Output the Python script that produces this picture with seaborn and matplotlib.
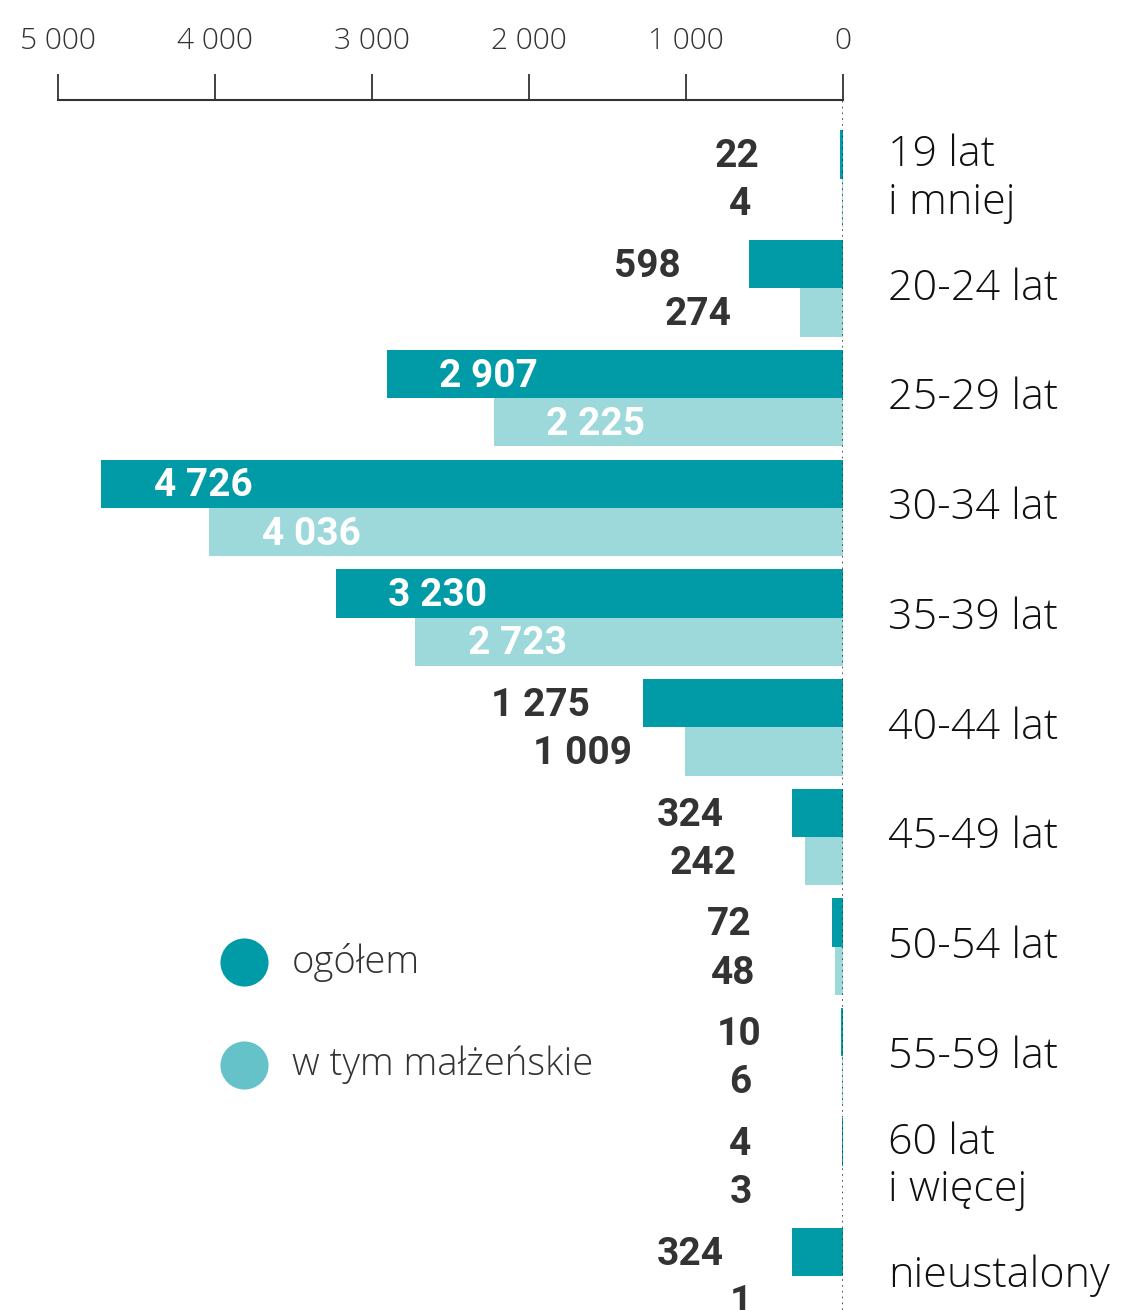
import numpy as np
import pandas as pd
import matplotlib.pyplot as plt
import seaborn as sns

sns.set_style('white')
plt.rcParams['font.family'] = ['Roboto', 'DejaVu Sans']

# dane
kategorie = ['19 lat\ni mniej', '20-24 lat', '25-29 lat', '30-34 lat', '35-39 lat',
             '40-44 lat', '45-49 lat', '50-54 lat', '55-59 lat', '60 lat\ni więcej',
             'nieustalony']
ogolem = [22, 598, 2907, 4726, 3230, 1275, 324, 72, 10, 4, 324]
malzenskie = [4, 274, 2225, 4036, 2723, 1009, 242, 48, 6, 3, 1]
serie = ['ogółem', 'w tym małżeńskie']
ticki = [0, 1000, 2000, 3000, 4000, 5000]

ciemny = '#009BA6'
jasny = '#9DD8DB'
jasny_leg = '#66C2C9'
tekst = '#333333'
lekki = ['Open Sans', 'DejaVu Sans']

df = pd.DataFrame({
    'kat': kategorie * 2,
    'val': ogolem + malzenskie,
    'seria': [serie[0]] * len(kategorie) + [serie[1]] * len(kategorie),
})

def fmt(v):
    return f'{v:,}'.replace(',', ' ')

fig = plt.figure(figsize=(11.28, 13.10), dpi=100)
ax = fig.add_axes([58 / 1128, 0, 785 / 1128, 1210 / 1310])

sns.barplot(data=df, y='kat', x='val', hue='seria', palette=[ciemny, jasny],
            orient='h', width=0.88, gap=0, saturation=1, legend=False,
            linewidth=0, ax=ax)

ax.set_xlim(5000, 0)
ax.set_ylim(10.31, -0.716)
ax.xaxis.tick_top()
ax.set_xticks(ticki)
ax.set_xticklabels([fmt(t) for t in ticki], fontsize=21.5, color=tekst,
                   fontweight='light', family=lekki)
ax.tick_params(axis='x', length=19, width=1.3, color=tekst, pad=13, direction='out')
ax.set_yticks([])
ax.set_xlabel('')
ax.set_ylabel('')
for s in ['bottom', 'left', 'right']:
    ax.spines[s].set_visible(False)
ax.spines['top'].set_linewidth(1.5)
ax.spines['top'].set_color(tekst)

ax.axvline(0, color=tekst, lw=1.2, ls=(0, (1, 2.5)), zorder=5)

off = 650
for i, (a, b) in enumerate(zip(ogolem, malzenskie)):
    for v, dy in [(a, -0.2), (b, 0.24)]:
        if v >= 2000:
            ax.text(v - off, i + dy, fmt(v), ha='center', va='center', fontsize=28,
                    fontweight='bold', color='white')
        else:
            ax.text(v + off, i + dy, fmt(v), ha='center', va='center', fontsize=28,
                    fontweight='bold', color=tekst, clip_on=False)
    ax.text(-287, i, kategorie[i], ha='left', va='center', fontsize=31,
            fontweight='light', family=lekki, color='#111111', linespacing=1.15,
            clip_on=False)

# legenda
for y, c, lab in [(962, ciemny, serie[0]), (1065, jasny_leg, serie[1])]:
    fy = 1 - y / 1310
    ax.scatter([244 / 1128], [fy], s=1200, color=c, transform=fig.transFigure,
               clip_on=False, linewidths=0)
    fig.text(292 / 1128, fy, lab, ha='left', va='center', fontsize=27.5,
             fontweight='light', family=lekki, color=tekst)

plt.savefig('out.png', dpi=100)
